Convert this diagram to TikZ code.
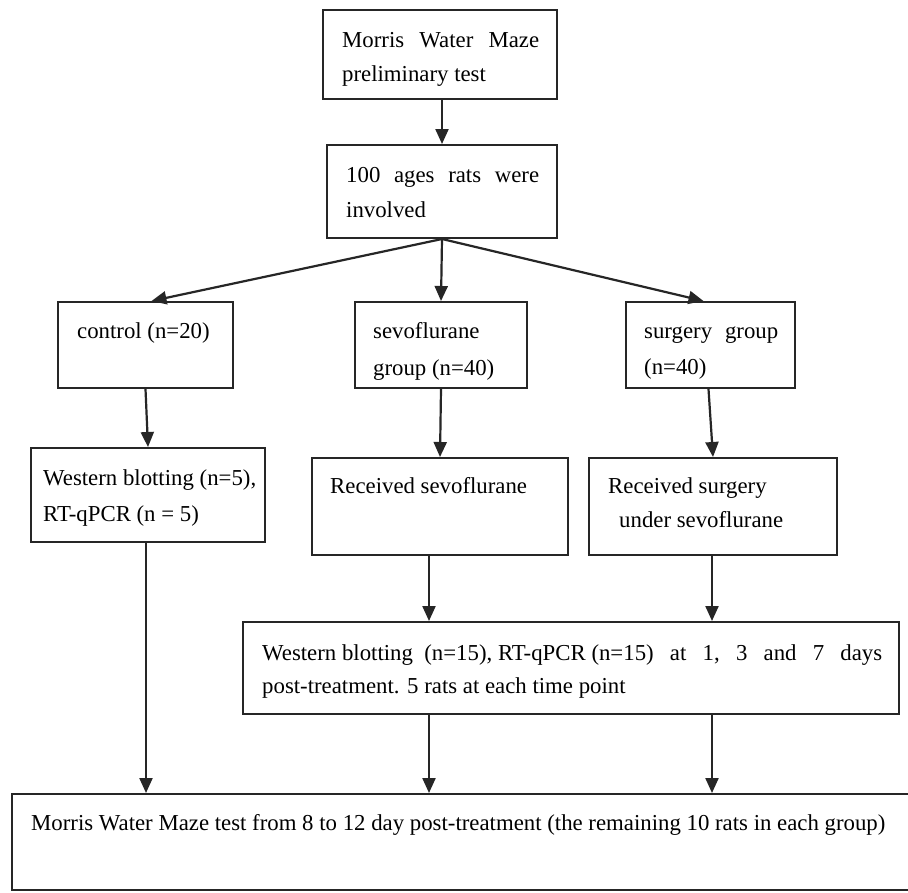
\documentclass[tikz,border=0pt]{standalone}
\usepackage{fontspec}
\setmainfont{Liberation Serif}
\usetikzlibrary{arrows.meta}
\newcommand{\twoln}[2]{\vtop{\hbox{#1}\hbox{#2}}}
\begin{document}
\begin{tikzpicture}[x=1pt,y=-1pt,
  box/.style={draw=black!85, line width=2pt, rectangle, inner sep=0pt},
  arr/.style={draw=black!85, line width=2.2pt, -{Triangle[length=15pt,width=13pt]}},
  txt/.style={anchor=base west, inner sep=0pt, font=\fontsize{22.8}{36}\selectfont},
]
\useasboundingbox (0,0) rectangle (908,892);
\fill[white] (0,0) rectangle (908,892);
\clip (0,0) rectangle (908,892);

% boxes (centre, size)
\node[box, minimum width=234pt, minimum height=89pt] (b1) at (440,54.5) {};
\node[box, minimum width=230pt, minimum height=93pt] (b2) at (442,191.5) {};
\node[box, minimum width=175pt, minimum height=86pt] (ctrl) at (145.5,345) {};
\node[box, minimum width=172pt, minimum height=86pt] (sevo) at (441,345) {};
\node[box, minimum width=169pt, minimum height=86pt] (surg) at (710.5,345) {};
\node[box, minimum width=234pt, minimum height=94pt] (wbc) at (148,495) {};
\node[box, minimum width=256pt, minimum height=97pt] (recsevo) at (440,506.5) {};
\node[box, minimum width=248pt, minimum height=97pt] (recsurg) at (713,506.5) {};
\node[box, minimum width=656pt, minimum height=92pt] (wb15) at (571,668) {};
\node[box, minimum width=904pt, minimum height=96pt] (mwm) at (464,842) {};

% texts
\node[txt, font=\fontsize{22.8}{34}\selectfont] (t1) at (342,47) {\twoln{\makebox[197pt][s]{Morris Water Maze}}{preliminary test}};
\node[txt, font=\fontsize{22.8}{35}\selectfont] (t2) at (346,182) {\twoln{\makebox[193pt][s]{100 ages rats were}}{involved}};
\node[txt] (tc) at (77,338) {control (n=20)};
\node[txt, font=\fontsize{22.8}{37}\selectfont] (ts) at (373,338) {\twoln{sevoflurane}{group (n=40)}};
\node[txt] (tg) at (644,338) {\twoln{\makebox[134pt][s]{surgery group}}{(n=40)}};
\node[txt] (twc) at (43,485) {\twoln{Western blotting (n=5),}{RT-qPCR (n = 5)}};
\node[txt] (trs) at (330,493) {Received sevoflurane};
\node[txt, font=\fontsize{22.8}{34.5}\selectfont] (trg) at (608,493) {\twoln{Received surgery}{\hspace*{11pt}under sevoflurane}};
\node[txt, font=\fontsize{22.8}{33}\selectfont] (tw) at (262,660) {\twoln{\hbox to 620pt{Western blotting\ \ (n=15), RT-qPCR (n=15)\hfill at\hfill 1,\hfill 3\hfill and\hfill 7\hfill days}}{post-treatment. 5 rats at each time point}};
\node[txt] (tm) at (31,830) {Morris Water Maze test from 8 to 12 day post-treatment (the remaining 10 rats in each group)};

% connectors
\draw[arr] (b2.north |- b1.south) -- (b2.north);
\draw[arr] (b2.south) -- ([xshift=6pt]ctrl.north);
\draw[arr] (b2.south) -- (sevo.north);
\draw[arr] (b2.south) -- ([xshift=-7pt]surg.north);
\draw[arr] (ctrl.south) -- (wbc.north);
\draw[arr] (sevo.south) -- (recsevo.north);
\draw[arr] ([xshift=-2pt]surg.south) -- (recsurg.north);
\draw[arr] ([xshift=-11pt]recsevo.south) -- ([xshift=-11pt]recsevo.south |- wb15.north);
\draw[arr] ([xshift=-1pt]recsurg.south) -- ([xshift=-1pt]recsurg.south |- wb15.north);
\draw[arr] ([xshift=-2pt]wbc.south) -- ([xshift=-2pt]wbc.south |- mwm.north);
\draw[arr] ([xshift=-11pt]recsevo.south |- wb15.south) -- ([xshift=-11pt]recsevo.south |- mwm.north);
\draw[arr] ([xshift=-1pt]recsurg.south |- wb15.south) -- ([xshift=-1pt]recsurg.south |- mwm.north);
\end{tikzpicture}
\end{document}
